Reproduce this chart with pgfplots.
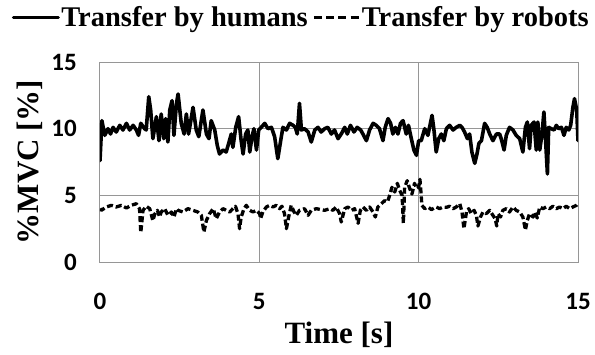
\documentclass[border=0pt]{standalone}
\usepackage{pgfplots}
\pgfplotsset{compat=1.18}
\usepackage{fontspec}
\setmainfont{Liberation Serif}
\newfontfamily\carlito{Carlito}
\definecolor{gridgray}{RGB}{150,150,150}
\begin{document}
\begin{tikzpicture}
\useasboundingbox (-100pt,-92pt) rectangle (495pt,262pt);
\begin{axis}[
  at={(0pt,0pt)}, anchor=south west,
  scale only axis, width=478pt, height=200pt,
  xmin=0, xmax=15, ymin=0, ymax=15,
  xtick={0,5,10,15}, ytick={0,5,10,15},
  major tick length=0pt,
  grid=major,
  major grid style={gridgray, line width=1pt},
  axis line style={gridgray, line width=1pt},
  /pgf/number format/assume math mode=true,
  ticklabel style={font=\fontsize{25}{25}\selectfont\carlito\bfseries, inner sep=0pt},
  xticklabel style={anchor=north, yshift=-31pt},
  yticklabel style={anchor=east, xshift=-23pt},
  xlabel={Time [s]},
  ylabel={\%MVC [\%]},
  label style={font=\fontsize{31}{31}\selectfont\bfseries, inner sep=0pt},
  xlabel style={at={(axis description cs:0.5,-0.405)}, anchor=base},
  ylabel style={at={(axis description cs:-0.128,0.5)}, anchor=base, rotate=0},
  legend columns=2,
  legend style={draw=none, fill=none, at={(0.4205,1.285)}, anchor=north,
    font=\fontsize{28.5}{28.5}\selectfont\bfseries, inner sep=0pt,
    nodes={inner sep=1.5pt},
    /tikz/every even column/.style={column sep=3pt}},
  legend cell align=left,
]
\addplot[black, line width=3.6pt, line join=round, line cap=round,
  legend image code/.code={\draw[black, line width=3pt] (0pt,0pt) -- (45pt,0pt);}]
coordinates {
(0,7.6) (0.06,10.6) (0.15,9.5) (0.25,10.0) (0.33,9.6) (0.41,10.1) (0.51,9.75) (0.62,10.25) (0.72,9.9) (0.83,10.4) (0.93,9.9) (1.04,10.25) (1.14,9.9) (1.21,9.5) (1.28,10.4) (1.40,10.0) (1.45,9.9) (1.53,12.4) (1.59,11.4) (1.66,9.25) (1.77,10.9) (1.85,9.1) (1.92,11.1) (2.00,9.25) (2.06,10.75) (2.13,9.0) (2.19,11.4) (2.26,12.1) (2.32,9.5) (2.40,11.9) (2.45,12.6)
(2.55,10.4) (2.64,9.6) (2.71,11.1) (2.78,9.6) (2.92,11.6) (3.02,9.9) (3.10,9.4) (3.23,11.4) (3.34,9.6) (3.42,9.25) (3.49,10.6) (3.60,9.9) (3.68,8.75) (3.75,8.1) (3.86,8.4) (3.96,8.25) (4.05,9.0) (4.12,9.6) (4.17,8.6) (4.26,10.1) (4.35,10.9) (4.43,9.1) (4.49,8.1) (4.57,9.6) (4.64,9.9) (4.70,8.25) (4.77,9.4) (4.83,10.0) (4.91,8.4) (4.98,9.9)
(5.06,10.1) (5.17,10.4) (5.27,10.0) (5.38,10.1) (5.48,9.4) (5.58,7.75) (5.67,9.1) (5.74,10.1) (5.85,9.9) (5.95,10.4) (6.06,10.25) (6.13,10.1) (6.19,9.6) (6.26,11.9) (6.32,9.9) (6.42,10.0) (6.53,9.75) (6.63,9.0) (6.74,9.9) (6.84,10.1) (6.94,9.75) (7.05,10.0) (7.15,10.1) (7.26,9.6) (7.36,9.9) (7.47,9.25)
(7.57,9.6) (7.68,10.1) (7.76,9.6) (7.86,10.25) (7.97,9.75) (8.07,10.1) (8.18,9.9) (8.25,9.6) (8.36,9.1) (8.46,9.9) (8.57,10.4) (8.67,10.25) (8.77,10.0) (8.88,9.1) (8.95,10.1) (9.04,10.75) (9.12,10.4) (9.19,9.6) (9.27,10.1) (9.35,9.6) (9.43,10.4) (9.51,10.6) (9.61,9.6) (9.68,10.25) (9.77,9.25) (9.85,8.4) (9.93,8.0) (10.0,9.1)
(10.08,9.1) (10.19,10.0) (10.29,9.5) (10.42,11.0) (10.48,9.9) (10.55,8.25) (10.63,9.25) (10.71,9.6) (10.79,9.1) (10.87,10.0) (10.97,10.25) (11.08,9.9) (11.18,10.1) (11.29,10.25) (11.36,10.1) (11.44,9.75) (11.53,9.25) (11.60,9.6) (11.67,8.25) (11.76,7.4) (11.83,8.1) (11.89,8.9) (11.97,9.1) (12.07,10.4) (12.15,10.1) (12.23,9.6) (12.33,9.1) (12.44,9.6) (12.54,9.6)
(12.59,9.25) (12.68,8.4) (12.75,9.5) (12.85,10.1) (12.96,9.9) (13.06,9.5) (13.17,9.25) (13.27,8.25) (13.35,10.1) (13.41,10.5) (13.48,8.5) (13.53,10.25) (13.62,10.5) (13.69,8.4) (13.74,10.5) (13.80,8.4) (13.87,9.6) (13.93,11.25) (13.98,9.25) (14.04,6.6) (14.08,10.1) (14.16,10.0) (14.25,9.9) (14.32,10.25) (14.39,10.0) (14.48,10.1) (14.56,9.5) (14.63,10.1) (14.71,9.9) (14.77,10.25) (14.84,11.6) (14.89,12.25) (14.96,11.4) (15.0,9.1)
};
\addlegendentry{Transfer by humans}
\addplot[black, line width=3.3pt, line join=round, dash pattern=on 6pt off 3pt,
  legend image code/.code={\draw[black, line width=3pt, dash pattern=on 8pt off 4.3pt] (0pt,0pt) -- (45pt,0pt);}]
coordinates {
(0,4.0) (0.04,3.875) (0.2,4.125) (0.36,4.25) (0.51,4.125) (0.67,4.25) (0.83,4.05) (0.98,4.25) (1.14,4.375) (1.24,4.0) (1.28,2.2) (1.35,3.875) (1.45,4.18) (1.56,4.0) (1.66,3.1) (1.72,3.6) (1.80,3.875) (1.87,3.375) (1.92,3.75) (2.03,4.0) (2.13,3.5) (2.24,3.75) (2.32,3.375) (2.40,4.0)
(2.45,3.875) (2.60,3.75) (2.76,4.0) (2.92,3.875) (3.07,3.75) (3.18,3.5) (3.26,2.25) (3.34,3.125) (3.44,3.625) (3.55,4.0) (3.65,3.25) (3.75,3.75) (3.86,4.0) (3.96,3.875) (4.07,3.75) (4.17,4.0) (4.25,4.18) (4.33,3.625) (4.38,2.5) (4.43,3.375) (4.52,4.0) (4.59,4.25) (4.70,3.875) (4.80,3.75) (4.91,3.875) (5.01,3.625)
(5.04,3.25) (5.11,3.75) (5.22,4.125) (5.32,4.25) (5.43,4.125) (5.53,4.25) (5.64,4.0) (5.71,4.18) (5.79,3.625) (5.85,2.5) (5.92,3.375) (6.00,4.25) (6.09,3.75) (6.16,3.5) (6.26,3.875) (6.42,4.0) (6.53,3.5) (6.63,3.875) (6.79,4.0) (6.94,3.93) (7.05,3.875) (7.21,4.0) (7.31,3.875) (7.41,4.125) (7.52,3.625)
(7.57,3.0) (7.68,4.0) (7.78,4.125) (7.89,3.875) (7.99,4.0) (8.10,2.9) (8.17,3.875) (8.25,4.125) (8.36,3.875) (8.46,4.125) (8.57,3.75) (8.64,3.375) (8.72,4.125) (8.83,4.375) (8.93,4.6) (9.02,4.5) (9.09,5.0) (9.16,5.6) (9.25,5.25) (9.33,5.9) (9.40,5.4) (9.48,5.0) (9.52,2.9) (9.56,5.6) (9.64,6.1) (9.72,5.5) (9.79,5.1) (9.87,5.9) (9.94,5.5) (10.0,5.6)
(10.04,6.2) (10.08,5.0) (10.10,4.25) (10.19,4.0) (10.29,4.125) (10.40,3.93) (10.55,4.125) (10.66,4.0) (10.76,4.125) (10.87,4.1) (10.97,4.18) (11.08,4.0) (11.18,4.125) (11.29,4.375) (11.36,3.75) (11.42,2.5) (11.50,3.75) (11.57,4.0) (11.65,3.625) (11.74,3.875) (11.81,3.5) (11.86,2.7) (11.94,3.375) (12.02,3.75) (12.12,3.625) (12.23,3.875) (12.33,3.5) (12.40,3.25) (12.45,2.7) (12.49,3.625)
(12.57,3.375) (12.64,3.875) (12.75,4.0) (12.85,3.75) (12.96,4.125) (13.06,3.875) (13.17,3.75) (13.27,3.375) (13.35,2.4) (13.41,3.125) (13.48,3.625) (13.59,3.375) (13.66,3.75) (13.72,3.3) (13.80,4.125) (13.90,4.0) (14.00,4.125) (14.11,4.0) (14.21,4.18) (14.32,4.0) (14.42,4.125) (14.53,4.0) (14.63,4.18) (14.74,4.0) (14.84,4.125) (14.95,4.25) (15.0,4.375)
};
\addlegendentry{Transfer by robots}
\end{axis}
\end{tikzpicture}
\end{document}
